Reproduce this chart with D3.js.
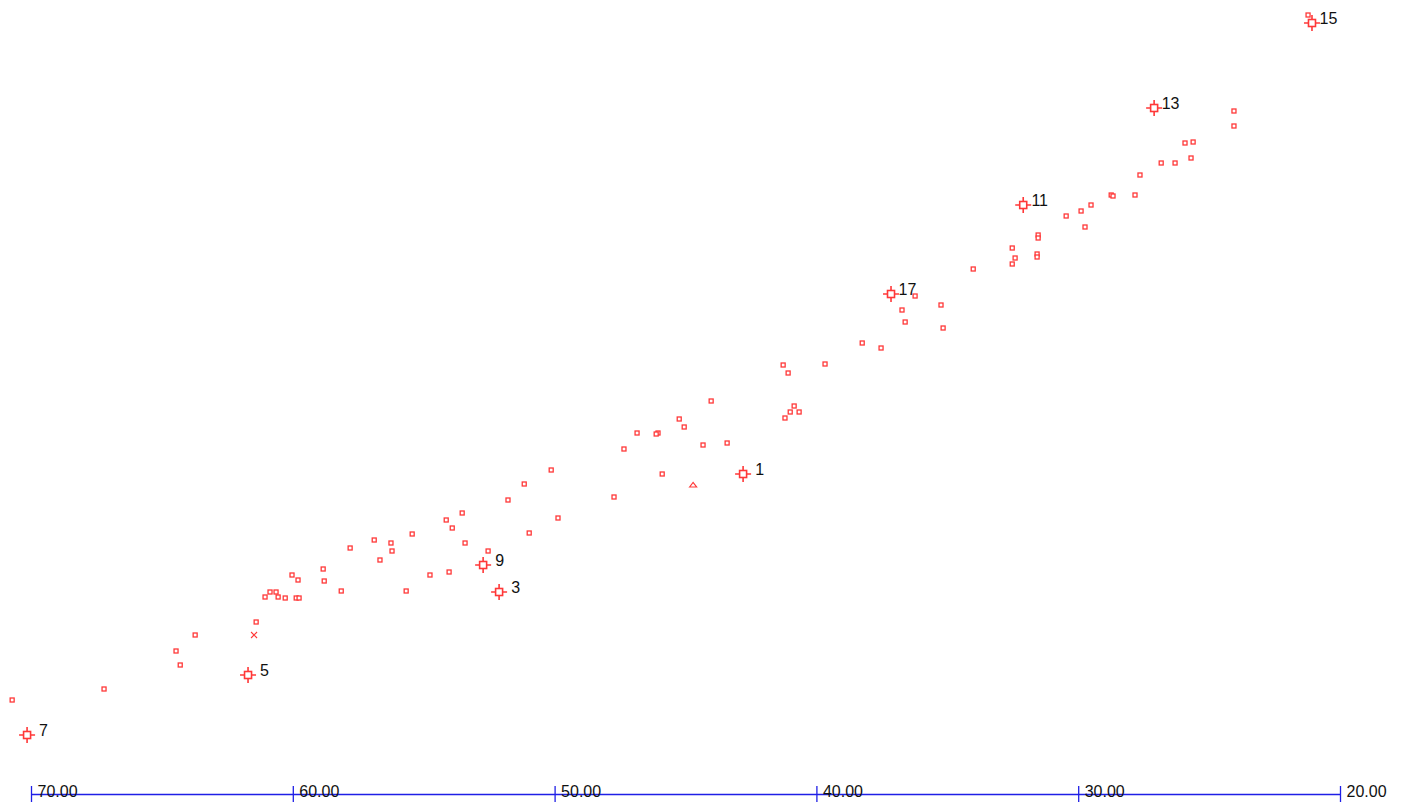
<!DOCTYPE html>
<html lang="en">
<head>
<meta charset="utf-8">
<title>scatter</title>
<script src="https://cdn.jsdelivr.net/npm/d3@7"></script>
<style>
  body { margin: 0; background: #fff; }
  svg { display: block; }
</style>
</head>
<body>
<script>
var w = 1403, h = 802;

// labelled stations
var stationIds = ["1", "3", "5", "7", "9", "11", "13", "15", "17"];
var stationX = [42.80, 52.12, 61.71, 70.15, 52.73, 32.10, 27.10, 21.07, 37.15];
var stationY = [32.1, 20.3, 12.0, 6.0, 23.0, 59.0, 68.7, 77.2, 50.1];

// other samples
var sampleX = [21.22, 24.05, 24.05, 25.92, 25.61, 25.69, 26.83, 26.30, 27.64, 28.74,
  28.67, 27.83, 29.51, 29.89, 30.46, 29.74, 31.53, 31.53, 31.57, 31.57,
  32.52, 32.41, 32.52, 34.01, 35.24, 35.16, 36.23, 36.73, 36.61, 38.25,
  37.53, 39.67, 41.27, 41.08, 40.85, 41.00, 40.66, 41.20, 44.02, 45.24,
  45.05, 46.05, 46.12, 46.85, 47.35, 44.33, 43.41, 45.89, 44.71, 47.73,
  50.13, 51.16, 51.78, 49.87, 50.97, 53.53, 54.14, 53.91, 53.42, 52.54,
  55.44, 56.89, 56.25, 56.21, 57.81, 56.67, 58.84, 58.80, 60.03, 59.80,
  58.15, 55.67, 54.76, 54.03, 61.06, 60.87, 60.64, 60.56, 60.29, 59.87,
  59.76, 61.40, 61.48, 63.73, 64.46, 64.30, 67.21, 70.72];
var sampleY = [78.0, 68.4, 66.9, 65.2, 65.3, 63.7, 63.2, 63.2, 62.0, 60.0,
  59.9, 60.0, 59.0, 58.4, 57.9, 56.8, 56.0, 55.7, 54.1, 53.8,
  54.7, 53.7, 53.1, 52.6, 49.0, 46.7, 49.9, 48.5, 47.3, 45.2,
  44.7, 43.1, 43.0, 42.2, 38.9, 38.3, 38.3, 37.7, 39.4, 37.6,
  36.8, 36.2, 36.1, 36.2, 34.6, 35.0, 35.2, 32.1, 31.0, 29.8,
  32.5, 31.1, 29.5, 27.7, 26.2, 28.2, 27.5, 26.7, 25.2, 24.4,
  26.1, 25.5, 25.2, 24.4, 24.7, 23.5, 22.6, 21.4, 22.0, 21.5,
  20.4, 20.4, 22.0, 22.3, 19.8, 20.3, 20.3, 19.8, 19.7, 19.7,
  19.7, 17.3, 16.0, 16.0, 14.4, 13.0, 10.6, 9.5];
// marker kind by sample index (default square)
var sampleKind = {48: "tri", 82: "x"};

var xTicks = [70, 60, 50, 40, 30, 20];

var red = "#ff3838";

var svg = d3.select("body").append("svg")
  .attr("width", w)
  .attr("height", h);

var x = d3.scaleLinear().domain([70, 20]).range([31, 1340]);
var y = d3.scaleLinear().domain([0, 80]).range([795, -5]);

// axis
var axis = d3.axisBottom(x)
  .tickValues(xTicks)
  .tickSizeOuter(0)
  .tickFormat(d3.format(".2f"));

var gx = svg.append("g")
  .attr("transform", "translate(0,794)")
  .call(axis);

gx.select(".domain").attr("stroke", "#1f1fe6").attr("stroke-width", 1.5);
gx.selectAll(".tick line")
  .attr("stroke", "#1f1fe6")
  .attr("stroke-width", 1.3)
  .attr("y1", -8)
  .attr("y2", 9);
gx.selectAll(".tick text")
  .attr("fill", "#111")
  .attr("font-family", "Liberation Sans, Arial, sans-serif")
  .attr("font-size", "16px")
  .attr("text-anchor", "start")
  .attr("x", 6)
  .attr("y", 3)
  .attr("dy", 0);

// samples
var samples = sampleX.map(function(v, i) {
  return {x: v, y: sampleY[i], kind: sampleKind[i] || "sq"};
});

var pts = svg.append("g");
pts.selectAll("rect.s")
  .data(samples.filter(function(d) { return d.kind == "sq"; }))
  .enter()
  .append("rect")
  .attr("class", "s")
  .attr("x", function(d) { return x(d.x) - 2; })
  .attr("y", function(d) { return y(d.y) - 2; })
  .attr("width", 4)
  .attr("height", 4)
  .attr("fill", "#fff")
  .attr("stroke", red)
  .attr("stroke-width", 1.3);

pts.selectAll("path.t")
  .data(samples.filter(function(d) { return d.kind == "tri"; }))
  .enter()
  .append("path")
  .attr("class", "t")
  .attr("d", function(d) {
    var cx = x(d.x), cy = y(d.y);
    return "M" + (cx - 3.5) + "," + (cy + 2) + "L" + cx + "," + (cy - 2.5) + "L" + (cx + 3.5) + "," + (cy + 2) + "Z";
  })
  .attr("fill", "#fff")
  .attr("stroke", red)
  .attr("stroke-width", 1.2);

pts.selectAll("path.x")
  .data(samples.filter(function(d) { return d.kind == "x"; }))
  .enter()
  .append("path")
  .attr("class", "x")
  .attr("d", function(d) {
    var cx = x(d.x), cy = y(d.y);
    return "M" + (cx - 3) + "," + (cy - 3) + "L" + (cx + 3) + "," + (cy + 3) +
      "M" + (cx - 3) + "," + (cy + 3) + "L" + (cx + 3) + "," + (cy - 3);
  })
  .attr("stroke", red)
  .attr("stroke-width", 1.1);

// stations: crosshair + open square + label
var stations = stationIds.map(function(id, i) {
  return {id: id, x: stationX[i], y: stationY[i]};
});

var st = svg.append("g").selectAll("g")
  .data(stations)
  .enter()
  .append("g")
  .attr("transform", function(d) { return "translate(" + x(d.x) + "," + y(d.y) + ")"; });

st.append("path")
  .attr("d", "M-8,0H-3.5M3.5,0H8M0,-8V-3.5M0,3.5V8")
  .attr("stroke", red)
  .attr("stroke-width", 1.6);

st.append("rect")
  .attr("x", -3.5)
  .attr("y", -3.5)
  .attr("width", 7)
  .attr("height", 7)
  .attr("fill", "#fff")
  .attr("stroke", red)
  .attr("stroke-width", 1.6);

st.append("text")
  .attr("x", 16.5)
  .attr("y", 1)
  .attr("text-anchor", "middle")
  .attr("font-family", "Liberation Sans, Arial, sans-serif")
  .attr("font-size", "16px")
  .attr("fill", "#111")
  .text(function(d) { return d.id; });
</script>
</body>
</html>
